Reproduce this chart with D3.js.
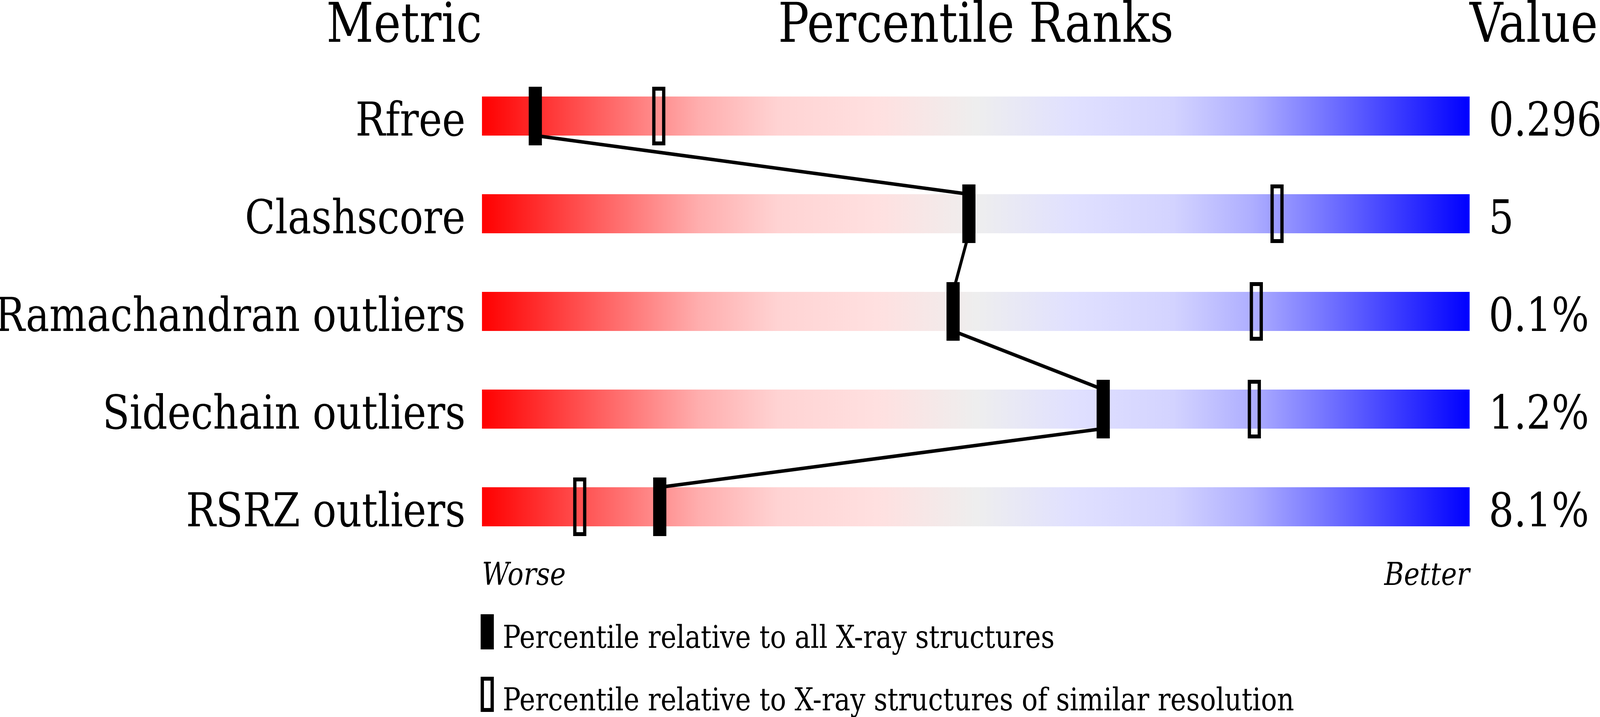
<!DOCTYPE html>
<html>
<head>
<meta charset="utf-8">
<script src="https://cdn.jsdelivr.net/npm/d3@7"></script>
<style>
  html, body { margin: 0; padding: 0; background: #fff; width: 100%; height: 100%; overflow: hidden; }
  svg { display: block; }
  text { font-family: "DejaVu Serif", serif; fill: #000; }
</style>
</head>
<body>
<div id="chart"></div>
<script>
// chart data
const metrics = ["Rfree", "Clashscore", "Ramachandran outliers", "Sidechain outliers", "RSRZ outliers"];
const valueLabels = ["0.296", "5", "0.1%", "1.2%", "8.1%"];
// percentile relative to all X-ray structures (filled marker)
const pctAll = [5.4, 49.3, 47.7, 62.9, 18.0];
// percentile relative to structures of similar resolution (open marker)
const pctSimilar = [17.9, 80.5, 78.4, 78.2, 9.9];
const headers = ["Metric", "Percentile Ranks", "Value"];
const legendLabels = [
    "Percentile relative to all X-ray structures",
    "Percentile relative to X-ray structures of similar resolution"
];
const gradientStops = [
    { offset: 0, color: "#ff0000" },
    { offset: 0.12, color: "#ff6060" },
    { offset: 0.22, color: "#ffaeae" },
    { offset: 0.3, color: "#ffd3d3" },
    { offset: 0.4, color: "#ffe0e0" },
    { offset: 0.5, color: "#eeeeee" },
    { offset: 0.6, color: "#e0e0ff" },
    { offset: 0.7, color: "#d3d3ff" },
    { offset: 0.78, color: "#aeaeff" },
    { offset: 0.88, color: "#6060ff" },
    { offset: 1, color: "#0000ff" }
];

const width = 4860, height = 1835;
const barH = 100, markW = 40, markH = 150, stroke = 10;

// drawing units stay 4860x1835, the svg fills whatever viewport it gets
const svg = d3.select("#chart")
    .append("svg")
    .attr("viewBox", `0 0 ${width} ${height}`)
    .attr("preserveAspectRatio", "none")
    .style("width", "100vw")
    .style("height", "100vh");

// scales
const x = d3.scaleLinear().domain([0, 100]).range([1464, 4464]);
const y = d3.scalePoint().domain(metrics).range([297, 1297]);

// gradient for the bars
const grad = svg.append("defs")
    .append("linearGradient")
    .attr("id", "rank")
    .attr("x1", "0%").attr("x2", "100%")
    .attr("y1", "0%").attr("y2", "0%");
grad.selectAll("stop")
    .data(gradientStops)
    .enter()
    .append("stop")
    .attr("offset", d => d.offset)
    .attr("stop-color", d => d.color);

// headers
svg.selectAll("text.header")
    .data(headers)
    .enter()
    .append("text")
    .attr("class", "header")
    .attr("x", (d, i) => [x(0), (x(0) + x(100)) / 2, x(100)][i])
    .attr("y", 107)
    .attr("text-anchor", (d, i) => ["end", "middle", "start"][i])
    .attr("font-size", 140)
    .text(d => d);

// bars
svg.selectAll("rect.bar")
    .data(metrics)
    .enter()
    .append("rect")
    .attr("class", "bar")
    .attr("x", x(0))
    .attr("y", d => y(d) - barH / 2)
    .attr("width", x(100) - x(0))
    .attr("height", barH)
    .attr("fill", "url(#rank)");

// metric labels
svg.selectAll("text.metric")
    .data(metrics)
    .enter()
    .append("text")
    .attr("class", "metric")
    .attr("x", x(0) - 50)
    .attr("y", d => y(d) + barH / 2)
    .attr("text-anchor", "end")
    .attr("font-size", 120)
    .text(d => d);

// value labels
svg.selectAll("text.value")
    .data(valueLabels)
    .enter()
    .append("text")
    .attr("class", "value")
    .attr("x", x(100) + 58)
    .attr("y", (d, i) => y(metrics[i]) + barH / 2)
    .attr("font-size", 120)
    .text(d => d);

// connecting line through the filled markers
const pts = [];
metrics.forEach((m, i) => {
    pts.push([x(pctAll[i]), y(m) - barH / 2]);
    pts.push([x(pctAll[i]), y(m) + barH / 2]);
});
svg.append("path")
    .attr("d", d3.line()(pts))
    .attr("fill", "none")
    .attr("stroke", "#000")
    .attr("stroke-width", 9)
    .attr("stroke-linejoin", "round");

// similar-resolution markers (open)
svg.selectAll("rect.similar")
    .data(pctSimilar)
    .enter()
    .append("rect")
    .attr("class", "similar")
    .attr("x", d => x(d) - markW / 2 + stroke / 2)
    .attr("y", (d, i) => y(metrics[i]) - markH / 2 + stroke / 2)
    .attr("width", markW - stroke)
    .attr("height", markH - stroke)
    .attr("fill", "none")
    .attr("stroke", "#000")
    .attr("stroke-width", stroke);

// all X-ray markers (filled)
svg.selectAll("rect.all")
    .data(pctAll)
    .enter()
    .append("rect")
    .attr("class", "all")
    .attr("x", d => x(d) - markW / 2)
    .attr("y", (d, i) => y(metrics[i]) - markH / 2)
    .attr("width", markW)
    .attr("height", markH)
    .attr("fill", "#000");

// worse / better
svg.append("text")
    .attr("x", x(0))
    .attr("y", 1497)
    .attr("font-size", 81)
    .attr("font-style", "italic")
    .text("Worse");
svg.append("text")
    .attr("x", x(100))
    .attr("y", 1497)
    .attr("text-anchor", "end")
    .attr("font-size", 81)
    .attr("font-style", "italic")
    .text("Better");

// legend
const legendY = [1617, 1777];
const legend = svg.selectAll("g.legend")
    .data(legendLabels)
    .enter()
    .append("g")
    .attr("class", "legend")
    .attr("transform", (d, i) => `translate(1480,${legendY[i]})`);

legend.append("rect")
    .attr("x", (d, i) => i === 0 ? -markW / 2 : -markW / 2 + stroke / 2)
    .attr("y", (d, i) => i === 0 ? -45 : -45 + stroke / 2)
    .attr("width", (d, i) => i === 0 ? markW : markW - stroke)
    .attr("height", (d, i) => i === 0 ? 90 : 90 - stroke)
    .attr("fill", (d, i) => i === 0 ? "#000" : "none")
    .attr("stroke", (d, i) => i === 0 ? "none" : "#000")
    .attr("stroke-width", stroke);

legend.append("text")
    .attr("x", 47)
    .attr("y", 41)
    .attr("font-size", 81)
    .text(d => d);
</script>
</body>
</html>
